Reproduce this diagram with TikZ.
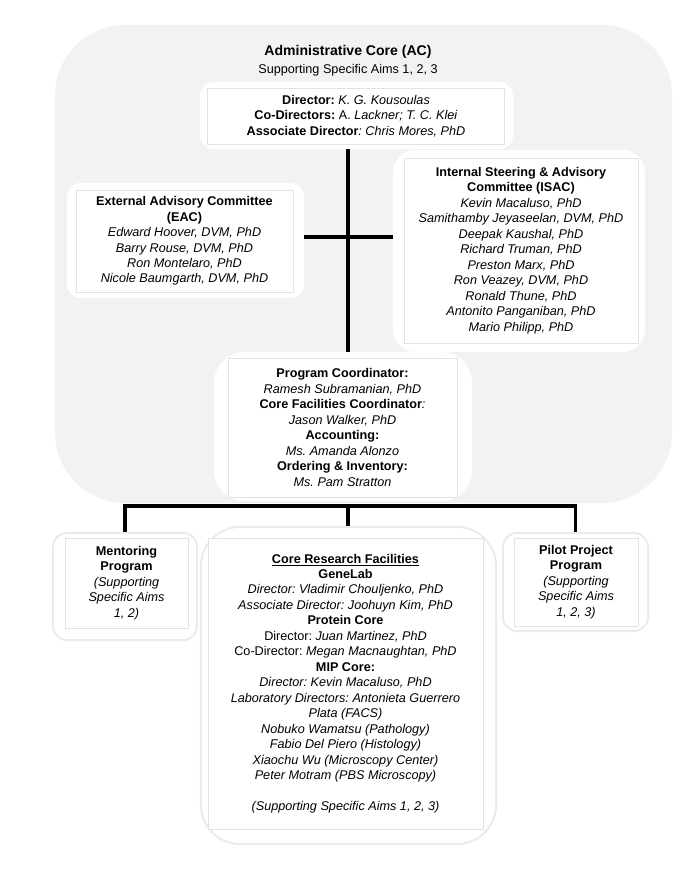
\documentclass[tikz,border=0pt]{standalone}
\usepackage{fontspec}
\setmainfont{Liberation Sans}
\usetikzlibrary{positioning}

\definecolor{acgray}{HTML}{F2F2F2}
\definecolor{rimgray}{HTML}{E2E2E2}
\definecolor{haloline}{HTML}{EBEBEB}

\begin{document}
\frenchspacing
\begin{tikzpicture}[
    x=0.025cm, y=-0.025cm,
    halo/.style={rectangle, rounded corners=10pt, fill=white, inner sep=0pt},
    ringhalo/.style={halo, draw=haloline, line width=1.4pt},
    box/.style={rectangle, draw=rimgray, line width=0.5pt, fill=white,
                align=center, inner sep=2pt,
                font=\fontsize{9}{11}\selectfont},
    link/.style={line width=2.8pt, black},
  ]
    \useasboundingbox (0,0) rectangle (696,880);

    % administrative core background
    \fill[acgray, rounded corners=50pt] (55,25) rectangle (672,503);
    \node[font=\bfseries\fontsize{10}{12}\selectfont] (title) at (348,52) {Administrative Core (AC)};
    \node[font=\fontsize{9}{11}\selectfont] (subtitle) at (348,70) {Supporting Specific Aims 1, 2, 3};

    % white halos
    \node[halo, minimum width=7.83cm, minimum height=1.68cm] (dirH) at (356.5,115.5) {};
    \node[halo, minimum width=5.93cm, minimum height=2.88cm] (eacH) at (185.5,240.5) {};
    \node[halo, rounded corners=16pt, minimum width=6.3cm, minimum height=5.05cm] (isacH) at (519,251) {};
    \node[halo, rounded corners=22pt, minimum width=6.45cm, minimum height=3.73cm] (pcH) at (343,426.5) {};
    \node[ringhalo, minimum width=3.6cm, minimum height=2.68cm] (mentH) at (125,586.5) {};
    \node[ringhalo, minimum width=3.63cm, minimum height=2.45cm] (pilotH) at (575.5,582) {};
    \node[ringhalo, rounded corners=28pt, minimum width=7.38cm, minimum height=7.93cm] (coreH) at (348.5,685.5) {};

    % boxes
    \node[box, minimum width=7.43cm, minimum height=1.40cm] (dir) at (356,116) {%
      \textbf{Director:} \textit{K. G. Kousoulas}\\
      \textbf{Co-Directors:} A. \textit{Lackner; T. C. Klei}\\
      \textbf{Associate Director}\textit{: Chris Mores, PhD}};
    \node[box, minimum width=5.43cm, minimum height=2.55cm] (eac) at (184.5,241) {%
      \textbf{External Advisory Committee}\\
      \textbf{(EAC)}\\
      \textit{Edward Hoover, DVM, PhD}\\
      \textit{Barry Rouse, DVM, PhD}\\
      \textit{Ron Montelaro, PhD}\\
      \textit{Nicole Baumgarth, DVM, PhD}};
    \node[box, minimum width=5.85cm, minimum height=4.63cm] (isac) at (521,250.5) {%
      \textbf{Internal Steering \& Advisory}\\
      \textbf{Committee (ISAC)}\\
      \textit{Kevin Macaluso, PhD}\\
      \textit{Samithamby Jeyaseelan, DVM, PhD}\\
      \textit{Deepak Kaushal, PhD}\\
      \textit{Richard Truman, PhD}\\
      \textit{Preston Marx, PhD}\\
      \textit{Ron Veazey, DVM, PhD}\\
      \textit{Ronald Thune, PhD}\\
      \textit{Antonito Panganiban, PhD}\\
      \textit{Mario Philipp, PhD}};
    \node[box, minimum width=5.73cm, minimum height=3.48cm] (pc) at (342.5,427.5) {%
      \textbf{Program Coordinator:}\\
      \textit{Ramesh Subramanian, PhD}\\
      \textbf{Core Facilities Coordinator}\textit{:}\\
      \textit{Jason Walker, PhD}\\
      \textbf{Accounting:}\\
      \textit{Ms. Amanda Alonzo}\\
      \textbf{Ordering \& Inventory:}\\
      \textit{Ms. Pam Stratton}};
    \node[box, minimum width=3.08cm, minimum height=2.25cm] (ment) at (126.5,583) {%
      \textbf{Mentoring}\\
      \textbf{Program}\\
      \textit{(Supporting}\\
      \textit{Specific Aims}\\
      \textit{1, 2)}};
    \node[box, minimum width=3.1cm, minimum height=2.2cm] (pilot) at (576,582) {%
      \textbf{Pilot Project}\\
      \textbf{Program}\\
      \textit{(Supporting}\\
      \textit{Specific Aims}\\
      \textit{1, 2, 3)}};
    \node[box, minimum width=6.88cm, minimum height=7.28cm] (core) at (345.5,683.5) {%
      \textbf{\underline{Core Research Facilities}}\\
      \textbf{GeneLab}\\
      \textit{Director: Vladimir Chouljenko, PhD}\\
      \textit{Associate Director: Joohuyn Kim, PhD}\\
      \textbf{Protein Core}\\
      Director: \textit{Juan Martinez, PhD}\\
      Co-Director: \textit{Megan Macnaughtan, PhD}\\
      \textbf{MIP Core:}\\
      \textit{Director: Kevin Macaluso, PhD}\\
      \textit{Laboratory Directors: Antonieta Guerrero}\\
      \textit{Plata (FACS)}\\
      \textit{Nobuko Wamatsu (Pathology)}\\
      \textit{Fabio Del Piero (Histology)}\\
      \textit{Xiaochu Wu (Microscopy Center)}\\
      \textit{Peter Motram (PBS Microscopy)}\\[11pt]
      \textit{(Supporting Specific Aims 1, 2, 3)}};

    % connectors
    \coordinate (spine) at (348,237);
    \coordinate (bar) at (348,506);
    \draw[link] (spine |- dirH.south) -- (spine |- pcH.north);
    \draw[link] (eacH.east |- spine) -- (isacH.west |- spine);
    \draw[link] (mentH.north) |- (bar) -| (pilotH.north);
    \draw[link] (bar) -- (spine |- coreH.north);
  \end{tikzpicture}
\end{document}
